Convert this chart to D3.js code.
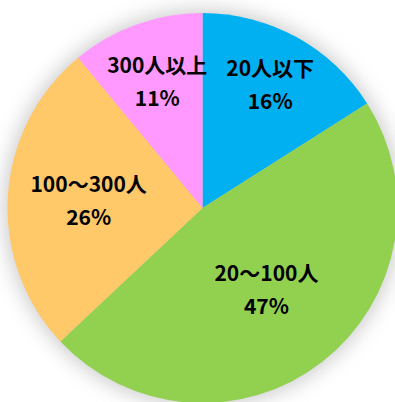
<!DOCTYPE html>
<html>
<head>
<meta charset="utf-8">
<script src="https://cdn.jsdelivr.net/npm/d3@7/dist/d3.min.js"></script>
<style>
  html, body { margin: 0; padding: 0; background: #fff; }
  svg { display: block; }
</style>
</head>
<body>
<svg id="chart" width="395" height="402"></svg>
<script>
// Company size breakdown (share of respondents, %)
const categories = ["20人以下", "20～100人", "100～300人", "300人以上"];
const shares = [16, 47, 26, 11];
const colors = ["#00B0F0", "#92D050", "#FFC869", "#FF99FF"];

// label distance from the centre, as a fraction of the radius
const labelRadiusFrac = [0.72, 0.535, 0.585, 0.685];

const W = 395, H = 402;
const cx = 202.5, cy = 208, R = 195;

const svg = d3.select("#chart");

const defs = svg.append("defs");
const glow = defs.append("filter").attr("id", "glow")
  .attr("x", "-30%").attr("y", "-30%").attr("width", "160%").attr("height", "160%");
glow.append("feGaussianBlur").attr("stdDeviation", 10);

const g = svg.append("g").attr("transform", `translate(${cx},${cy})`);

// soft shadow around the pie
g.append("circle")
  .attr("r", R + 3)
  .attr("fill", "#a8a8a8")
  .attr("opacity", 0.6)
  .attr("filter", "url(#glow)");

const pie = d3.pie().sort(null).value(d => d.v);
const data = categories.map((c, i) => ({ c, v: shares[i], i }));
const arcs = pie(data);

const arc = d3.arc().innerRadius(0).outerRadius(R);

g.selectAll("path.slice")
  .data(arcs)
  .join("path")
  .attr("class", "slice")
  .attr("d", arc)
  .attr("fill", d => colors[d.data.i]);

const labels = g.selectAll("g.lbl")
  .data(arcs)
  .join("g")
  .attr("class", "lbl")
  .attr("transform", d => {
    const a = (d.startAngle + d.endAngle) / 2;
    const r = R * labelRadiusFrac[d.data.i];
    return `translate(${r * Math.sin(a)},${-r * Math.cos(a)})`;
  });

const font = "'Noto Sans CJK JP', 'Noto Sans', sans-serif";

labels.append("text")
  .attr("text-anchor", "middle")
  .attr("y", -16.5)
  .attr("dy", "0.36em")
  .attr("font-family", font)
  .attr("font-weight", "bold")
  .attr("font-size", 21)
  .attr("fill", "#000")
  .text(d => d.data.c);

labels.append("text")
  .attr("text-anchor", "middle")
  .attr("y", 16.5)
  .attr("dy", "0.36em")
  .attr("font-family", font)
  .attr("font-weight", "bold")
  .attr("font-size", 21)
  .attr("fill", "#000")
  .text(d => d.data.v + "%");
</script>
</body>
</html>
